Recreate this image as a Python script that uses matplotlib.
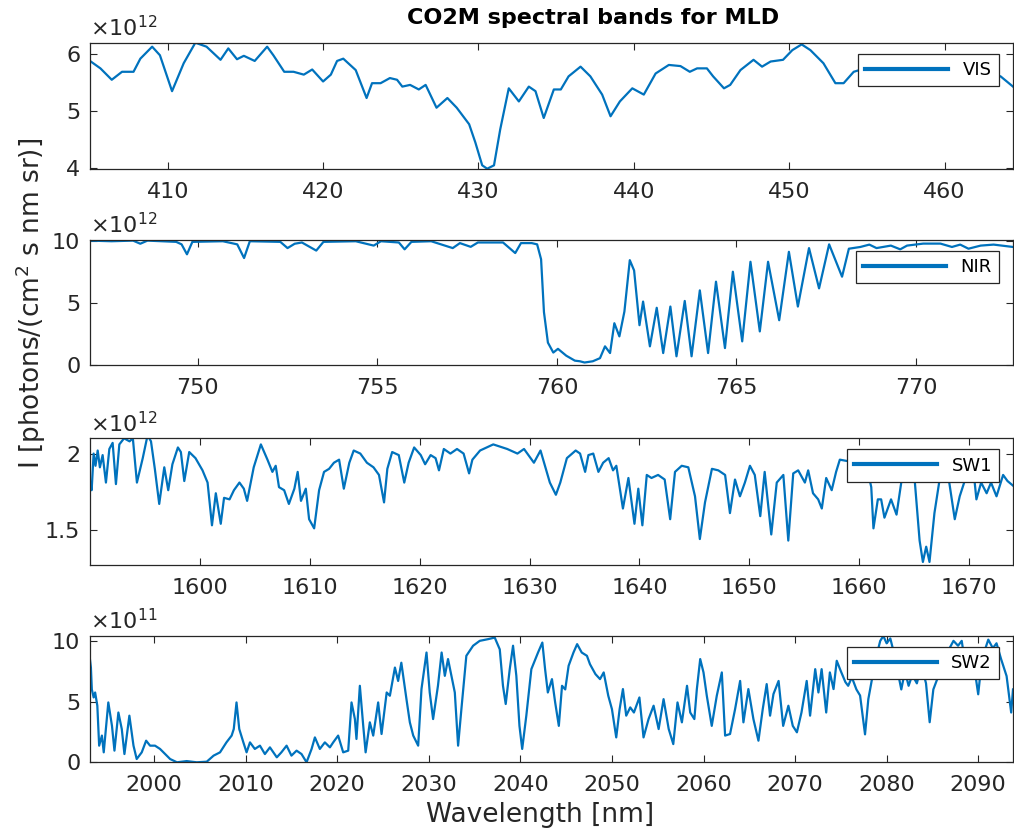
import matplotlib
matplotlib.use("Agg")
import matplotlib.pyplot as plt
from matplotlib.ticker import FuncFormatter

# VIS band (values in 1e12 photons/(cm2 s nm sr))
vis_wl = [405.0, 405.67, 406.4, 407.06, 407.8, 408.24, 409.0, 409.5, 410.28, 411.03,
          411.78, 412.5, 413.4, 413.9, 414.46, 414.9, 415.6, 416.4, 416.8, 417.5,
          418.1, 418.76, 419.3, 420.0, 420.5, 420.9, 421.3, 422.1, 422.8, 423.15,
          423.7, 424.3, 424.76, 425.1, 425.6, 426.16, 426.6, 427.3, 428.0, 428.6,
          429.4, 429.8, 430.24, 430.56, 431.0, 431.4, 431.95, 432.6, 433.24, 433.67,
          434.2, 434.85, 435.3, 435.8, 436.57, 437.2, 437.96, 438.5, 439.1, 439.9,
          440.64, 441.4, 442.25, 443.0, 443.6, 444.07, 444.7, 445.1, 445.8, 446.2,
          446.86, 447.7, 448.25, 448.8, 449.6, 450.2, 450.8, 451.36, 452.2, 452.97,
          453.5, 454.15, 455.5, 457.0, 458.5, 460.0, 461.5, 463.0, 463.6, 464.4]
vis_val = [5.88, 5.75, 5.55, 5.69, 5.69, 5.92, 6.13, 5.98, 5.35, 5.84,
           6.20, 6.13, 5.90, 6.10, 5.91, 5.97, 5.88, 6.13, 5.98, 5.69,
           5.69, 5.64, 5.73, 5.52, 5.64, 5.88, 5.92, 5.72, 5.23, 5.49,
           5.49, 5.58, 5.55, 5.43, 5.46, 5.38, 5.46, 5.06, 5.23, 5.06,
           4.77, 4.45, 4.05, 3.99, 4.05, 4.68, 5.40, 5.17, 5.43, 5.35,
           4.88, 5.38, 5.38, 5.61, 5.78, 5.61, 5.29, 4.91, 5.17, 5.40,
           5.29, 5.66, 5.81, 5.79, 5.69, 5.75, 5.75, 5.61, 5.40, 5.46,
           5.72, 5.90, 5.78, 5.87, 5.90, 6.07, 6.17, 6.07, 5.84, 5.49,
           5.49, 5.69, 5.80, 5.90, 5.75, 5.85, 5.70, 5.65, 5.61, 5.43]

# NIR band (1e12)
nir_wl = [747.0, 747.6, 748.2, 748.4, 748.6, 749.4, 749.55, 749.7, 749.85, 750.7,
          751.1, 751.29, 751.45, 752.3, 752.5, 752.7, 752.9, 753.3, 753.5, 754.4,
          754.9, 755.1, 755.6, 755.76, 755.95, 756.5, 757.1, 757.3, 757.6, 757.8,
          758.5, 758.84, 759.0, 759.3, 759.45, 759.56, 759.64, 759.75, 759.9, 760.03,
          760.26, 760.5, 760.64, 760.77, 761.0, 761.2, 761.34, 761.48, 761.6, 761.74,
          761.88, 762.03, 762.15, 762.3, 762.4, 762.59, 762.78, 762.96, 763.16, 763.33,
          763.56, 763.75, 763.98, 764.21, 764.43, 764.68, 764.9, 765.16, 765.39, 765.65,
          765.88, 766.19, 766.46, 766.71, 767.02, 767.3, 767.58, 767.94, 768.13, 768.45,
          768.7, 768.9, 769.3, 769.56, 769.75, 770.2, 770.68, 771.0, 771.23, 771.46,
          771.8, 772.16, 772.7]
nir_val = [10.0, 9.95, 10.0, 9.75, 10.0, 9.9, 9.7, 8.9, 9.9, 9.95,
           9.7, 8.6, 9.95, 9.9, 9.4, 9.75, 9.85, 9.2, 9.9, 9.95,
           9.6, 9.95, 9.85, 9.3, 9.9, 9.95, 9.4, 9.8, 9.5, 9.85,
           9.85, 9.0, 9.8, 9.8, 9.7, 8.5, 4.25, 1.8, 1.0, 1.3,
           0.75, 0.35, 0.3, 0.2, 0.3, 0.55, 1.5, 0.96, 3.36, 2.3,
           4.3, 8.43, 7.6, 3.2, 5.1, 1.5, 4.6, 0.96, 4.7, 0.7,
           5.15, 0.7, 6.0, 0.96, 6.7, 1.36, 7.5, 1.9, 8.3, 2.7,
           8.3, 3.6, 9.1, 4.7, 9.4, 6.16, 9.7, 7.1, 9.35, 9.49,
           9.68, 9.4, 9.6, 9.3, 9.6, 9.76, 9.76, 9.49, 9.68, 9.35,
           9.6, 9.68, 9.49]

# SW1 band (1e12)
sw1_wl = [1590.03, 1590.15, 1590.33, 1590.5, 1590.7, 1590.9, 1591.15, 1591.45, 1591.76, 1592.06,
          1592.36, 1592.67, 1593.1, 1593.6, 1593.9, 1594.27, 1594.8, 1595.24, 1595.55, 1595.9,
          1596.3, 1596.76, 1597.12, 1597.5, 1598.0, 1598.27, 1598.58, 1599.03, 1599.6, 1600.24,
          1600.7, 1601.1, 1601.45, 1601.9, 1602.2, 1602.7, 1603.1, 1603.6, 1604.0, 1604.3,
          1604.9, 1605.55, 1606.15, 1606.6, 1606.9, 1607.2, 1607.67, 1608.1, 1608.6, 1608.9,
          1609.2, 1609.64, 1609.94, 1610.4, 1610.85, 1611.3, 1611.76, 1612.2, 1612.67, 1613.1,
          1613.6, 1614.0, 1614.6, 1615.2, 1615.8, 1616.3, 1616.76, 1617.06, 1617.5, 1618.1,
          1618.6, 1619.0, 1619.5, 1620.1, 1620.5, 1621.0, 1621.45, 1621.76, 1622.2, 1622.8,
          1623.4, 1624.0, 1624.5, 1624.8, 1625.5, 1626.7, 1627.97, 1628.9, 1629.5, 1630.4,
          1631.0, 1631.85, 1632.4, 1632.8, 1633.4, 1634.2, 1634.6, 1635.06, 1635.36, 1635.8,
          1636.27, 1636.7, 1637.2, 1637.6, 1637.9, 1638.5, 1639.0, 1639.55, 1639.9, 1640.27,
          1640.67, 1641.1, 1641.7, 1642.3, 1642.8, 1643.24, 1643.85, 1644.45, 1645.06, 1645.5,
          1645.97, 1646.6, 1647.18, 1647.8, 1648.24, 1648.7, 1649.15, 1649.6, 1650.06, 1650.5,
          1651.0, 1651.4, 1652.0, 1652.5, 1653.1, 1653.55, 1654.0, 1654.45, 1655.06, 1655.36,
          1655.8, 1656.27, 1656.6, 1657.0, 1657.5, 1657.9, 1658.24, 1659.0, 1660.0, 1660.8,
          1661.1, 1661.3, 1661.7, 1662.0, 1662.3, 1662.9, 1663.4, 1663.85, 1664.5, 1665.06,
          1665.5, 1665.8, 1666.1, 1666.4, 1666.85, 1667.3, 1667.8, 1668.2, 1668.7, 1669.15,
          1669.6, 1670.5, 1670.67, 1671.1, 1671.6, 1672.0, 1672.5, 1673.1, 1673.5, 1674.0]
sw1_val = [1.81, 1.76, 2.0, 1.92, 2.02, 1.91, 1.99, 1.81, 2.03, 2.07,
           1.8, 2.06, 2.1, 2.08, 2.1, 1.81, 1.97, 2.12, 2.08, 1.9,
           1.67, 1.91, 1.76, 1.93, 2.04, 2.01, 1.82, 2.01, 1.97, 1.89,
           1.81, 1.53, 1.74, 1.54, 1.71, 1.7, 1.76, 1.81, 1.77, 1.69,
           1.91, 2.06, 1.96, 1.88, 1.92, 1.78, 1.76, 1.67, 1.77, 1.88,
           1.69, 1.77, 1.57, 1.51, 1.76, 1.88, 1.9, 1.94, 1.96, 1.77,
           1.94, 2.02, 2.0, 1.94, 1.91, 1.86, 1.68, 1.9, 2.01, 1.99,
           1.81, 1.94, 2.04, 1.99, 1.93, 1.99, 1.97, 1.89, 2.03, 2.0,
           2.03, 2.0, 1.87, 1.96, 2.02, 2.06, 2.03, 2.0, 2.03, 1.94,
           2.02, 1.81, 1.73, 1.81, 1.97, 2.02, 2.0, 1.88, 1.99, 2.0,
           1.88, 1.94, 1.97, 1.89, 1.92, 1.64, 1.84, 1.54, 1.77, 1.53,
           1.86, 1.84, 1.86, 1.83, 1.57, 1.88, 1.92, 1.91, 1.72, 1.44,
           1.68, 1.9, 1.89, 1.86, 1.61, 1.83, 1.72, 1.81, 1.92, 1.86,
           1.59, 1.88, 1.47, 1.81, 1.86, 1.43, 1.87, 1.89, 1.81, 1.89,
           1.74, 1.7, 1.64, 1.84, 1.76, 1.88, 1.96, 1.95, 1.9, 1.88,
           1.78, 1.51, 1.7, 1.7, 1.58, 1.7, 1.6, 1.82, 1.9, 1.82,
           1.43, 1.29, 1.39, 1.29, 1.61, 1.82, 1.9, 1.81, 1.57, 1.72,
           1.82, 1.82, 1.7, 1.81, 1.74, 1.81, 1.72, 1.86, 1.82, 1.79]

# SW2 band (1e11)
sw2_wl = [1992.95, 1993.1, 1993.2, 1993.4, 1993.56, 1993.8, 1994.0, 1994.3, 1994.5, 1995.0,
          1995.4, 1995.67, 1996.1, 1996.47, 1996.76, 1997.3, 1997.75, 1998.1, 1998.65, 1999.13,
          1999.56, 2000.1, 2000.65, 2001.2, 2001.75, 2002.5, 2003.56, 2004.65, 2005.75, 2006.5,
          2007.2, 2007.9, 2008.47, 2008.7, 2009.0, 2009.3, 2009.75, 2010.1, 2010.47, 2011.0,
          2011.56, 2012.1, 2012.65, 2013.4, 2013.9, 2014.47, 2015.0, 2015.56, 2016.1, 2016.65,
          2017.2, 2017.56, 2018.1, 2018.65, 2019.2, 2019.56, 2020.1, 2020.65, 2021.2, 2021.56,
          2021.93, 2022.1, 2022.47, 2022.84, 2023.1, 2023.56, 2023.93, 2024.47, 2024.84, 2025.4,
          2025.75, 2026.3, 2026.65, 2027.0, 2027.56, 2027.93, 2028.3, 2028.84, 2029.2, 2029.75,
          2030.1, 2030.47, 2031.0, 2031.4, 2031.75, 2032.1, 2032.47, 2032.84, 2033.2, 2033.56,
          2034.1, 2034.84, 2035.56, 2036.47, 2037.2, 2037.75, 2038.1, 2038.4, 2038.84, 2039.2,
          2039.56, 2039.9, 2040.2, 2040.65, 2041.2, 2041.93, 2042.4, 2042.7, 2043.0, 2043.45,
          2043.8, 2044.2, 2044.55, 2044.9, 2045.27, 2045.8, 2046.2, 2046.7, 2047.27, 2047.6,
          2048.2, 2048.7, 2049.1, 2049.6, 2050.0, 2050.47, 2050.84, 2051.2, 2051.56, 2052.0,
          2052.4, 2053.0, 2053.45, 2054.0, 2054.55, 2055.1, 2055.64, 2056.2, 2056.7, 2057.16,
          2057.64, 2058.2, 2058.55, 2059.0, 2059.27, 2059.64, 2060.0, 2060.36, 2060.9, 2061.45,
          2062.0, 2062.36, 2062.9, 2063.45, 2064.0, 2064.36, 2064.9, 2065.45, 2066.0, 2066.47,
          2066.9, 2067.27, 2067.64, 2068.2, 2068.7, 2069.27, 2069.75, 2070.2, 2070.7, 2071.27,
          2071.64, 2072.2, 2072.55, 2072.9, 2073.4, 2073.8, 2074.2, 2074.55, 2075.0, 2075.5,
          2075.8, 2076.2, 2076.7, 2077.1, 2077.64, 2078.0, 2078.36, 2078.8, 2079.3, 2079.64,
          2080.0, 2080.4, 2080.8, 2081.2, 2081.6, 2082.0, 2082.4, 2082.8, 2083.3, 2083.8,
          2084.3, 2084.7, 2085.1, 2085.6, 2086.2, 2086.8, 2087.3, 2087.8, 2088.2, 2088.6,
          2089.0, 2089.5, 2090.0, 2090.4, 2091.1, 2091.6, 2092.0, 2092.5, 2093.1, 2093.6,
          2093.8]
sw2_val = [8.77, 7.8, 6.0, 5.34, 5.75, 4.66, 1.37, 2.2, 0.82, 4.93,
           3.0, 0.96, 4.1, 2.74, 0.68, 3.84, 1.37, 0.27, 0.82, 1.78,
           1.37, 1.37, 1.1, 0.68, 0.27, 0.0, 0.1, 0.0, 0.05, 0.55,
           0.82, 1.64, 2.2, 2.74, 4.93, 2.74, 1.64, 0.82, 1.64, 1.1,
           1.37, 0.68, 1.23, 0.41, 0.82, 1.37, 0.55, 0.96, 0.68, 0.0,
           1.1, 2.05, 1.1, 1.64, 1.23, 1.64, 2.2, 0.82, 0.96, 4.93,
           3.56, 1.92, 6.3, 3.0, 0.82, 3.29, 2.2, 4.93, 2.33, 5.75,
           5.48, 7.8, 6.7, 8.2, 5.2, 3.29, 2.2, 1.37, 6.03, 9.04,
           5.75, 3.56, 6.3, 9.04, 7.12, 8.5, 7.12, 5.75, 1.37, 4.38,
           8.77, 9.6, 10.0, 10.14, 10.27, 9.3, 6.3, 4.8, 7.67, 9.6,
           7.12, 3.0, 1.1, 3.84, 7.67, 9.04, 9.86, 7.67, 5.75, 6.85,
           4.93, 3.0, 6.3, 6.0, 7.95, 9.04, 9.73, 9.04, 8.77, 8.08,
           7.26, 6.85, 7.4, 5.48, 4.38, 2.05, 4.38, 6.03, 3.84, 4.52,
           4.1, 5.34, 2.05, 3.56, 4.66, 2.74, 5.2, 2.74, 1.5, 4.93,
           3.29, 6.3, 4.1, 3.56, 6.0, 8.5, 7.4, 5.48, 3.0, 5.48,
           7.4, 2.2, 2.33, 4.38, 6.7, 3.29, 6.03, 3.56, 1.78, 4.38,
           6.44, 3.84, 5.62, 6.7, 3.0, 4.66, 3.0, 2.47, 4.1, 6.7,
           3.84, 7.67, 5.75, 7.67, 4.1, 7.4, 6.03, 8.36, 7.5, 6.6,
           6.3, 7.0, 6.0, 5.5, 2.3, 5.2, 6.7, 8.5, 10.0, 10.4,
           9.8, 10.2, 9.0, 7.5, 6.0, 7.5, 6.3, 7.2, 6.5, 8.0,
           6.5, 3.3, 6.0, 7.0, 8.5, 9.3, 10.0, 9.6, 10.0, 8.0,
           7.5, 8.2, 5.6, 8.5, 10.1, 9.4, 9.8, 8.5, 7.1, 4.1,
           6.0]

bands = [
    ("VIS", vis_wl, vis_val, (405.0, 464.4), (3.98, 6.2), [410, 420, 430, 440, 450, 460], [4, 5, 6], 12),
    ("NIR", nir_wl, nir_val, (747.0, 772.7), (0, 10.05), [750, 755, 760, 765, 770], [0, 5, 10], 12),
    ("SW1", sw1_wl, sw1_val, (1590.0, 1674.0), (1.27, 2.1), list(range(1600, 1671, 10)), [1.5, 2], 12),
    ("SW2", sw2_wl, sw2_val, (1993.0, 2093.8), (0, 10.4), list(range(2000, 2091, 10)), [0, 5, 10], 11),
]

W, H = 1014, 833
# axes boxes in pixels: top, bottom
boxes = [(42.7, 169.3), (240.0, 365.0), (438.3, 565.0), (636.0, 762.3)]
left_px, right_px = 90, 1013

txt = "#262626"
blue = "#0072BD"
plt.rcParams["font.family"] = "DejaVu Sans"

fig = plt.figure(figsize=(W / 100, H / 100), dpi=100)

for (name, wl, val, xl, yl, xt, yt, expo), (top, bot) in zip(bands, boxes):
    ax = fig.add_axes([left_px / W, 1 - bot / H, (right_px - left_px) / W, (bot - top) / H])
    ax.plot(wl, val, color=blue, lw=1.6, label=name)
    ax.set_xlim(xl)
    ax.set_ylim(yl)
    ax.set_xticks(xt)
    ax.set_yticks(yt)
    ax.yaxis.set_major_formatter(FuncFormatter(lambda v, p: "%g" % v))
    ax.tick_params(direction="in", top=True, right=True, length=5, width=0.8,
                   labelsize=16, colors=txt, pad=7)
    ax.tick_params(axis="x", pad=9)
    for s in ax.spines.values():
        s.set_color(txt)
        s.set_linewidth(0.9)
    ax.text(0.0, 1.02, r"$\times\mathdefault{10^{%d}}$" % expo, transform=ax.transAxes,
            ha="left", va="bottom", fontsize=16, color=txt)
    top_frac = (bot - (top + 11)) / (bot - top)
    leg = ax.legend(loc="upper right", bbox_to_anchor=(0.985, top_frac), borderaxespad=0,
                    fontsize=13, handlelength=4.6, fancybox=False, framealpha=1,
                    edgecolor=txt)
    leg.get_frame().set_linewidth(0.9)
    for ln in leg.get_lines():
        ln.set_linewidth(3)

fig.text(593 / W, 1 - 18 / H, "CO2M spectral bands for MLD", ha="center", va="center",
         fontsize=16, fontweight="bold", color="black")
fig.text(540 / W, 1 - 815 / H, "Wavelength [nm]", ha="center", va="center",
         fontsize=19, color=txt)
fig.text(31 / W, 1 - 303 / H, r"I [photons/(cm$^2$ s nm sr)]", ha="center", va="center",
         rotation=90, fontsize=19, color=txt)

fig.savefig("out.png", dpi=100)
